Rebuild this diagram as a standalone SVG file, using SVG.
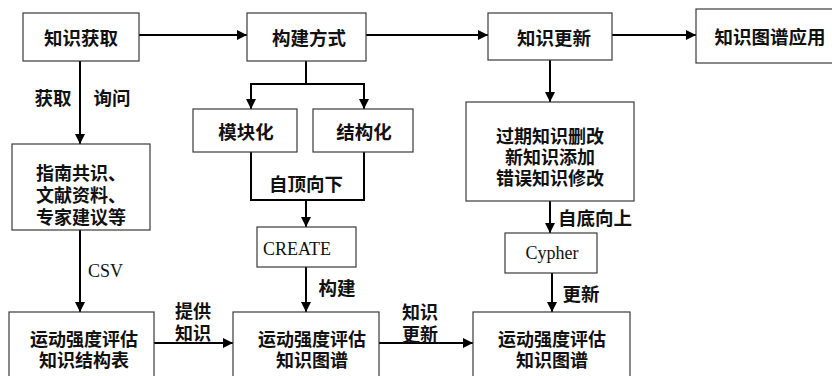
<svg xmlns="http://www.w3.org/2000/svg" width="832" height="376" viewBox="0 0 832 376">
<style>
  .box { fill: #ffffff; stroke: #3a3a3a; stroke-width: 1.2; }
  .t { font-family: "Noto Sans CJK SC", "Liberation Serif", sans-serif; font-size: 18.5px; font-weight: 700; fill: #111; text-anchor: middle; dominant-baseline: central; }
  .s { font-size: 18px; }
  .l { font-family: "Liberation Serif", "Noto Sans CJK SC", serif; font-size: 18px; fill: #111; dominant-baseline: central; }
  .c { fill: none; stroke: #000; stroke-width: 2; }
  .a { marker-end: url(#arr); }
</style>
<defs>
  <marker id="arr" markerUnits="userSpaceOnUse" markerWidth="10" markerHeight="10" refX="10" refY="5" orient="auto">
    <path d="M0,0 L10,5 L0,10 z" fill="#000"/>
  </marker>
</defs>
<rect width="832" height="376" fill="#fff"/>

<g id="connectors">
  <line class="c a" x1="139" y1="35" x2="247" y2="35"/>
  <line class="c a" x1="366" y1="35" x2="488" y2="35"/>
  <line class="c a" x1="612" y1="35" x2="696" y2="35"/>
  <line class="c a" x1="80" y1="61" x2="80" y2="144"/>
  <line class="c a" x1="80" y1="230" x2="80" y2="312"/>
  <polyline class="c" points="306,61 306,84"/>
  <polyline class="c a" points="306,84 251,84 251,109"/>
  <polyline class="c a" points="306,84 364,84 364,109"/>
  <polyline class="c" points="251,152 251,200 364,200 364,152"/>
  <line class="c a" x1="306" y1="200" x2="306" y2="227"/>
  <line class="c a" x1="306" y1="267" x2="306" y2="312"/>
  <line class="c a" x1="550" y1="60" x2="550" y2="102"/>
  <line class="c a" x1="550" y1="201" x2="550" y2="233"/>
  <line class="c a" x1="552" y1="273" x2="552" y2="312"/>
  <line class="c a" x1="154" y1="343" x2="233" y2="343"/>
  <line class="c a" x1="379" y1="343" x2="473" y2="343"/>
</g>

<g id="labels">
  <text class="t" x="53" y="97">获取</text>
  <text class="t" x="112" y="97">询问</text>
  <text class="l" x="88" y="271">CSV</text>
  <text class="t" x="306" y="183">自顶向下</text>
  <text class="t" x="337" y="287">构建</text>
  <text class="t s" x="193" y="310">提供<tspan x="193" dy="22">知识</tspan></text>
  <text class="t s" x="420" y="311">知识<tspan x="420" dy="22">更新</tspan></text>
  <text class="t" x="595" y="217">自底向上</text>
  <text class="t" x="581" y="293">更新</text>
</g>

<g id="n-acquire">
  <rect class="box" x="23" y="13" width="116" height="48"/>
  <text class="t" x="81" y="37">知识获取</text>
</g>
<g id="n-build">
  <rect class="box" x="247" y="13" width="119" height="48"/>
  <text class="t" x="309" y="37">构建方式</text>
</g>
<g id="n-update">
  <rect class="box" x="488" y="13" width="124" height="47"/>
  <text class="t" x="554" y="37">知识更新</text>
</g>
<g id="n-apply">
  <rect class="box" x="696" y="9" width="140" height="54"/>
  <text class="t" x="770" y="36">知识图谱应用</text>
</g>
<g id="n-sources">
  <rect class="box" x="12" y="144" width="138" height="86"/>
  <text class="t s" x="81" y="172">指南共识、<tspan x="81" dy="22">文献资料、</tspan><tspan x="81" dy="22">专家建议等</tspan></text>
</g>
<g id="n-modular">
  <rect class="box" x="193" y="109" width="104" height="43"/>
  <text class="t" x="246" y="131">模块化</text>
</g>
<g id="n-structured">
  <rect class="box" x="313" y="109" width="100" height="43"/>
  <text class="t" x="364" y="131">结构化</text>
</g>
<g id="n-create">
  <rect class="box" x="257" y="227" width="99" height="40"/>
  <text class="l" x="263" y="249">CREATE</text>
</g>
<g id="n-changes">
  <rect class="box" x="466" y="102" width="168" height="99"/>
  <text class="t s" x="550" y="135">过期知识删改<tspan x="550" dy="21">新知识添加</tspan><tspan x="550" dy="21">错误知识修改</tspan></text>
</g>
<g id="n-cypher">
  <rect class="box" x="505" y="233" width="92" height="40"/>
  <text class="l" x="552" y="253" text-anchor="middle">Cypher</text>
</g>
<g id="n-table">
  <rect class="box" x="9" y="312" width="145" height="70"/>
  <text class="t s" x="84" y="338">运动强度评估<tspan x="84" dy="21">知识结构表</tspan></text>
</g>
<g id="n-graph1">
  <rect class="box" x="233" y="312" width="146" height="70"/>
  <text class="t s" x="312" y="338">运动强度评估<tspan x="312" dy="21">知识图谱</tspan></text>
</g>
<g id="n-graph2">
  <rect class="box" x="473" y="312" width="157" height="70"/>
  <text class="t s" x="552" y="338">运动强度评估<tspan x="552" dy="21">知识图谱</tspan></text>
</g>
</svg>
